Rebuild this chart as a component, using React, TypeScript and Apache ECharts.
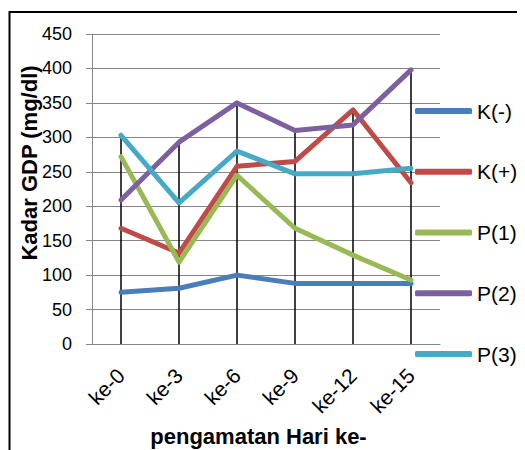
import React, { useEffect, useRef } from "react";
import * as echarts from "echarts";

const categories = ["ke-0", "ke-3", "ke-6", "ke-9", "ke-12", "ke-15"];
const seriesNames = ["K(-)", "K(+)", "P(1)", "P(2)", "P(3)"];
const kMinus = [75, 81, 100, 88, 88, 88];
const kPlus = [168, 132, 258, 265, 340, 234];
const p1 = [272, 119, 245, 168, 129, 93];
const p2 = [209, 293, 350, 310, 318, 398];
const p3 = [303, 205, 280, 247, 247, 255];
const colors = ["#4A7EBB", "#BE4B48", "#98B954", "#7D60A0", "#46AAC5"];
const yTicks = { min: 0, max: 450, interval: 50 };
const yAxisTitle = "Kadar GDP (mg/dl)";
const xAxisTitle = "pengamatan Hari ke-";

const FONT = "Liberation Sans, Arial, sans-serif";

export default function App() {
  const ref = useRef<HTMLDivElement>(null);
  useEffect(() => {
    if (!ref.current) return;
    const chart = echarts.init(ref.current, undefined, { renderer: "svg" });
    const all = [kMinus, kPlus, p1, p2, p3];
    const dropMax = categories.map((_, i) => Math.max(...all.map((s) => s[i])));
    chart.setOption({
      animation: false,
      textStyle: { fontFamily: FONT },
      grid: { left: 84, right: 85, top: 26, bottom: 106 },
      legend: {
        data: seriesNames,
        orient: "vertical",
        left: 402,
        top: 86,
        icon: "roundRect",
        itemWidth: 57,
        itemHeight: 6,
        itemGap: 36.75,
        textStyle: { fontSize: 21, color: "#000", fontFamily: FONT, lineHeight: 24 },
      },
      xAxis: {
        type: "category",
        data: categories,
        boundaryGap: true,
        axisLine: { lineStyle: { color: "#868686", width: 1 } },
        axisTick: { show: false },
        axisLabel: {
          rotate: 45,
          fontSize: 21,
          color: "#000",
          margin: 28,
          fontFamily: FONT,
        },
        splitLine: { show: false },
      },
      yAxis: {
        type: "value",
        min: yTicks.min,
        max: yTicks.max,
        interval: yTicks.interval,
        axisLine: { show: true, lineStyle: { color: "#868686", width: 1 } },
        axisTick: { show: true, length: 6, lineStyle: { color: "#868686" } },
        axisLabel: { fontSize: 18, color: "#000", margin: 20, fontFamily: FONT },
        splitLine: { lineStyle: { color: "#868686", width: 1 } },
      },
      graphic: [
        {
          type: "rect",
          shape: { x: 1.5, y: 4, width: 700, height: 700 },
          style: { fill: "none", stroke: "#000", lineWidth: 2 },
          silent: true,
        },
        {
          type: "text",
          x: 21,
          y: 155,
          rotation: Math.PI / 2,
          style: {
            text: yAxisTitle,
            font: `bold 22px ${FONT}`,
            fill: "#000",
            align: "center",
            verticalAlign: "middle",
          },
        },
        {
          type: "text",
          x: 250.5,
          y: 428,
          style: {
            text: xAxisTitle,
            font: `bold 22px ${FONT}`,
            fill: "#000",
            align: "center",
            verticalAlign: "middle",
          },
        },
      ],
      series: [
        {
          name: "drop",
          type: "bar",
          data: dropMax,
          barWidth: 1.5,
          itemStyle: { color: "#000" },
          silent: true,
          z: 1,
        },
        ...all.map((d, i) => ({
          name: seriesNames[i],
          type: "line",
          data: d,
          symbol: "none",
          color: colors[i],
          lineStyle: { width: 5, color: colors[i], cap: "round", join: "round" },
          z: 2,
        })),
      ],
    });
    return () => chart.dispose();
  }, []);
  return <div ref={ref} style={{ width: 517, height: 442 }} />;
}
